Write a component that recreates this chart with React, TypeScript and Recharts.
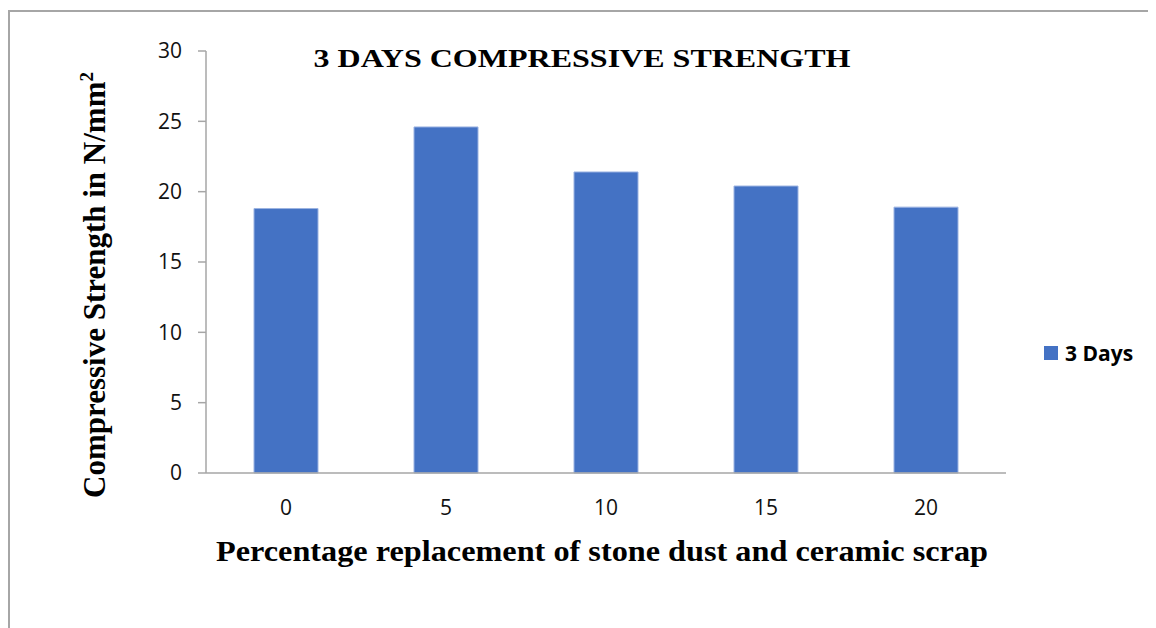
import { BarChart, Bar, XAxis, YAxis } from "recharts";

// 3-day compressive strength vs. replacement level
const replacementLevels = ["0", "5", "10", "15", "20"];
const strength3Days = [18.8, 24.6, 21.4, 20.4, 18.9];
const yTicks = [0, 5, 10, 15, 20, 25, 30];
const seriesName = "3 Days";

const data = replacementLevels.map((level, i) => ({
  level,
  strength: strength3Days[i],
}));

const BAR_COLOR = "#4472C4";
const AXIS_COLOR = "#a6a6a6";
const serif = "'Liberation Serif', 'Times New Roman', serif";
const sans = "'Open Sans', 'Noto Sans', sans-serif";
const tickStyle = { fill: "#111", fontSize: 21, fontFamily: sans };

export default function App() {
  return (
    <div style={{ position: "relative", width: 1148, height: 620, background: "#fff" }}>
      {/* outer frame, only top and left edges are in view */}
      <div
        style={{
          position: "absolute",
          left: 0,
          top: 2,
          right: -20,
          bottom: -20,
          borderLeft: `2px solid ${AXIS_COLOR}`,
          borderTop: `2px solid ${AXIS_COLOR}`,
        }}
      />
      <BarChart
        width={1148}
        height={620}
        data={data}
        margin={{ top: 43, right: 150, left: 0, bottom: 115 }}
        barSize={64}
        style={{ position: "absolute", left: 0, top: 0 }}
      >
        <XAxis
          dataKey="level"
          height={40}
          tickLine={false}
          tickSize={6}
          tickMargin={21}
          fontSize={21}
          axisLine={{ stroke: AXIS_COLOR, strokeWidth: 1.5 }}
          tick={tickStyle}
        />
        <YAxis
          width={198}
          domain={[0, 30]}
          ticks={yTicks}
          tickSize={8}
          tickMargin={16}
          fontSize={21}
          axisLine={{ stroke: AXIS_COLOR, strokeWidth: 1.5 }}
          tickLine={{ stroke: AXIS_COLOR, strokeWidth: 1.5 }}
          tick={tickStyle}
        />
        <Bar
          dataKey="strength"
          name={seriesName}
          fill={BAR_COLOR}
          stroke="#9bb3e2"
          strokeWidth={1}
          isAnimationActive={false}
        />
      </BarChart>
      {/* legend */}
      <div
        style={{
          position: "absolute",
          left: 1036,
          top: 331,
          display: "flex",
          alignItems: "center",
          fontFamily: sans,
          fontWeight: 700,
          fontSize: 21,
          color: "#000",
        }}
      >
        <span style={{ width: 14, height: 14, background: BAR_COLOR, marginRight: 7, display: "inline-block" }} />
        {seriesName}
      </div>
      {/* titles */}
      <svg
        width={1148}
        height={620}
        style={{ position: "absolute", left: 0, top: 0, pointerEvents: "none" }}
      >
        <text
          x={574}
          y={59}
          textAnchor="middle"
          fontFamily={serif}
          fontWeight={700}
          fontSize={25}
          textLength={537}
          lengthAdjust="spacingAndGlyphs"
          fill="#000"
        >
          3 DAYS COMPRESSIVE STRENGTH
        </text>
        <text
          x={594}
          y={553}
          textAnchor="middle"
          fontFamily={serif}
          fontWeight={700}
          fontSize={30}
          textLength={772}
          lengthAdjust="spacingAndGlyphs"
          fill="#000"
        >
          Percentage replacement of stone dust and ceramic scrap
        </text>
        <text
          transform="translate(97 490) rotate(-90)"
          textAnchor="start"
          fontFamily={serif}
          fontWeight={700}
          fontSize={31}
          fill="#000"
        >
          Compressive Strength in N/mm
          <tspan fontSize={19} dy={-12}>2</tspan>
        </text>
      </svg>
    </div>
  );
}
